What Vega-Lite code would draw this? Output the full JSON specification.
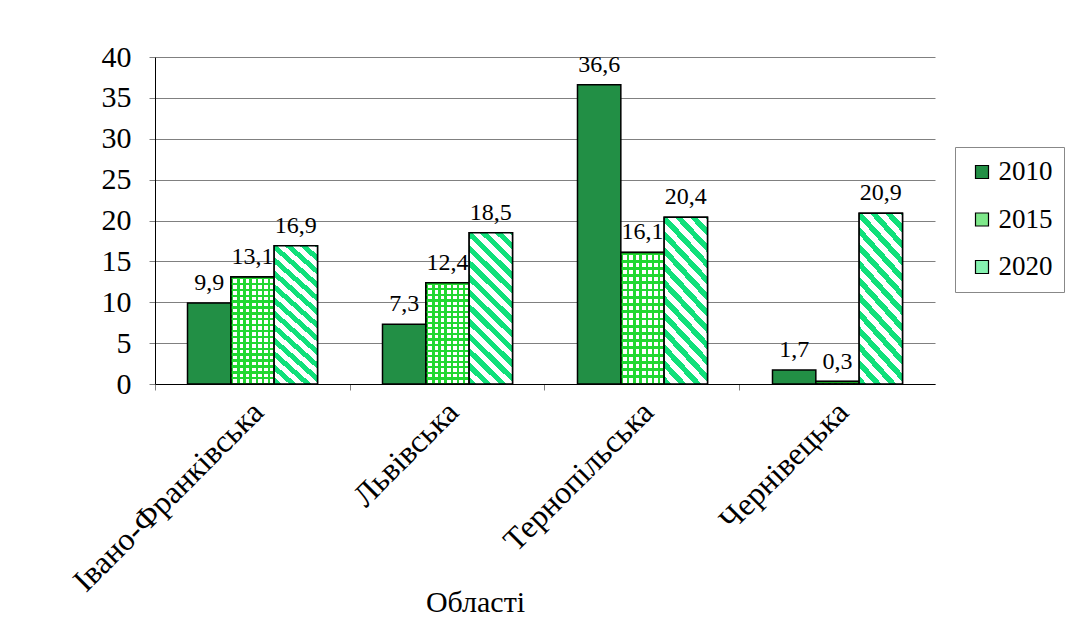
{
  "$schema": "https://vega.github.io/schema/vega-lite/v6.json",
  "width": 780,
  "height": 327,
  "autosize": {"type": "none"},
  "padding": {"left": 155, "top": 57, "right": 133, "bottom": 248},
  "background": "white",
  "config": {
    "font": "Liberation Serif",
    "view": {"stroke": null},
    "locale": {"number": {"decimal": ",", "thousands": " ", "grouping": [3], "currency": ["", ""]}}
  },
  "data": {
    "values": [
      {"region": "Івано-Франківська", "year": "2010", "value": 9.9},
      {"region": "Івано-Франківська", "year": "2015", "value": 13.1},
      {"region": "Івано-Франківська", "year": "2020", "value": 16.9},
      {"region": "Львівська", "year": "2010", "value": 7.3},
      {"region": "Львівська", "year": "2015", "value": 12.4},
      {"region": "Львівська", "year": "2020", "value": 18.5},
      {"region": "Тернопільська", "year": "2010", "value": 36.6},
      {"region": "Тернопільська", "year": "2015", "value": 16.1},
      {"region": "Тернопільська", "year": "2020", "value": 20.4},
      {"region": "Чернівецька", "year": "2010", "value": 1.7},
      {"region": "Чернівецька", "year": "2015", "value": 0.3},
      {"region": "Чернівецька", "year": "2020", "value": 20.9}
    ]
  },
  "encoding": {
    "x": {
      "field": "region",
      "type": "nominal",
      "sort": null,
      "scale": {"paddingInner": 0.3333, "paddingOuter": 0.1667},
      "axis": {
        "title": "Області",
        "titleFont": "Liberation Serif",
        "titleFontSize": 30,
        "titleFontWeight": "normal",
        "titleColor": "black",
        "titleX": 320,
        "titleY": 227,
        "titleBaseline": "alphabetic",
        "titleAnchor": "middle",
        "labelAngle": -45,
        "labelFontSize": 32,
        "labelColor": "black",
        "labelFont": "Liberation Serif",
        "labelLimit": 500,
        "labelPadding": 6,
        "labelOffset": -5,
        "bandPosition": -0.25,
        "tickSize": 6,
        "tickColor": "#808080",
        "domainColor": "black",
        "grid": false
      }
    },
    "xOffset": {"field": "year", "type": "nominal", "scale": {"domain": ["2010", "2015", "2020"], "paddingInner": 0, "paddingOuter": 0}},
    "y": {
      "field": "value",
      "type": "quantitative",
      "scale": {"domain": [0, 40], "nice": false},
      "axis": {
        "title": null,
        "values": [0, 5, 10, 15, 20, 25, 30, 35, 40],
        "labelFontSize": 30,
        "labelFont": "Liberation Serif",
        "labelColor": "black",
        "labelPadding": 18,
        "tickSize": 6,
        "tickColor": "#808080",
        "domainColor": "black",
        "gridColor": "#808080",
        "gridWidth": 1
      }
    }
  },
  "layer": [
    {
      "mark": {"type": "bar", "stroke": "black", "strokeWidth": 1.5},
      "encoding": {
        "color": {
          "field": "year",
          "type": "nominal",
          "scale": {"domain": ["2010", "2015", "2020"], "range": ["#228f45", "#7ee88a", "#86f2b0"]},
          "legend": {
            "title": null,
            "orient": "none",
            "legendX": 800,
            "legendY": 90,
            "direction": "vertical",
            "symbolType": "square",
            "symbolSize": 169,
            "symbolStrokeColor": "black",
            "symbolStrokeWidth": 1.2,
            "symbolOpacity": 1,
            "symbolOffset": 2,
            "labelFontSize": 27,
            "labelFont": "Liberation Serif",
            "labelColor": "black",
            "labelOffset": 3,
            "rowPadding": 19.5,
            "padding": 11.5,
            "strokeColor": "#888888",
            "fillColor": "white"
          }
        }
      }
    },
    {
      "transform": [{"filter": "datum.year === '2015'"}],
      "mark": {
        "type": "bar",
        "stroke": "black",
        "strokeWidth": 1.5,
        "fill": {
          "gradient": "linear", "x1": 0, "y1": 0, "x2": 1, "y2": 0,
          "stops": [
            {"offset": 0, "color": "#20d830"}, {"offset": 0.057, "color": "#20d830"}, {"offset": 0.057, "color": "white"}, {"offset": 0.143, "color": "white"},
            {"offset": 0.143, "color": "#20d830"}, {"offset": 0.2, "color": "#20d830"}, {"offset": 0.2, "color": "white"}, {"offset": 0.286, "color": "white"},
            {"offset": 0.286, "color": "#20d830"}, {"offset": 0.343, "color": "#20d830"}, {"offset": 0.343, "color": "white"}, {"offset": 0.429, "color": "white"},
            {"offset": 0.429, "color": "#20d830"}, {"offset": 0.486, "color": "#20d830"}, {"offset": 0.486, "color": "white"}, {"offset": 0.571, "color": "white"},
            {"offset": 0.571, "color": "#20d830"}, {"offset": 0.629, "color": "#20d830"}, {"offset": 0.629, "color": "white"}, {"offset": 0.714, "color": "white"},
            {"offset": 0.714, "color": "#20d830"}, {"offset": 0.771, "color": "#20d830"}, {"offset": 0.771, "color": "white"}, {"offset": 0.857, "color": "white"},
            {"offset": 0.857, "color": "#20d830"}, {"offset": 0.914, "color": "#20d830"}, {"offset": 0.914, "color": "white"}, {"offset": 1, "color": "white"}
          ]
        }
      },
      "encoding": {}
    },
    {
      "transform": [{"filter": "datum.year === '2015'"}],
      "mark": {
        "type": "bar",
        "stroke": "black",
        "strokeWidth": 1.5,
        "fill": {
          "gradient": "linear", "x1": 0, "y1": 0, "x2": 0, "y2": 1,
          "stops": [
            {"offset": 0, "color": "#20d830"}, {"offset": 0.022, "color": "#20d830"}, {"offset": 0.022, "color": "rgba(32,216,48,0)"}, {"offset": 0.055, "color": "rgba(32,216,48,0)"},
            {"offset": 0.055, "color": "#20d830"}, {"offset": 0.077, "color": "#20d830"}, {"offset": 0.077, "color": "rgba(32,216,48,0)"}, {"offset": 0.11, "color": "rgba(32,216,48,0)"},
            {"offset": 0.11, "color": "#20d830"}, {"offset": 0.132, "color": "#20d830"}, {"offset": 0.132, "color": "rgba(32,216,48,0)"}, {"offset": 0.165, "color": "rgba(32,216,48,0)"},
            {"offset": 0.165, "color": "#20d830"}, {"offset": 0.187, "color": "#20d830"}, {"offset": 0.187, "color": "rgba(32,216,48,0)"}, {"offset": 0.22, "color": "rgba(32,216,48,0)"},
            {"offset": 0.22, "color": "#20d830"}, {"offset": 0.242, "color": "#20d830"}, {"offset": 0.242, "color": "rgba(32,216,48,0)"}, {"offset": 0.275, "color": "rgba(32,216,48,0)"},
            {"offset": 0.275, "color": "#20d830"}, {"offset": 0.297, "color": "#20d830"}, {"offset": 0.297, "color": "rgba(32,216,48,0)"}, {"offset": 0.33, "color": "rgba(32,216,48,0)"},
            {"offset": 0.33, "color": "#20d830"}, {"offset": 0.352, "color": "#20d830"}, {"offset": 0.352, "color": "rgba(32,216,48,0)"}, {"offset": 0.385, "color": "rgba(32,216,48,0)"},
            {"offset": 0.385, "color": "#20d830"}, {"offset": 0.407, "color": "#20d830"}, {"offset": 0.407, "color": "rgba(32,216,48,0)"}, {"offset": 0.44, "color": "rgba(32,216,48,0)"},
            {"offset": 0.44, "color": "#20d830"}, {"offset": 0.462, "color": "#20d830"}, {"offset": 0.462, "color": "rgba(32,216,48,0)"}, {"offset": 0.495, "color": "rgba(32,216,48,0)"},
            {"offset": 0.495, "color": "#20d830"}, {"offset": 0.517, "color": "#20d830"}, {"offset": 0.517, "color": "rgba(32,216,48,0)"}, {"offset": 0.55, "color": "rgba(32,216,48,0)"},
            {"offset": 0.55, "color": "#20d830"}, {"offset": 0.572, "color": "#20d830"}, {"offset": 0.572, "color": "rgba(32,216,48,0)"}, {"offset": 0.605, "color": "rgba(32,216,48,0)"},
            {"offset": 0.605, "color": "#20d830"}, {"offset": 0.627, "color": "#20d830"}, {"offset": 0.627, "color": "rgba(32,216,48,0)"}, {"offset": 0.66, "color": "rgba(32,216,48,0)"},
            {"offset": 0.66, "color": "#20d830"}, {"offset": 0.682, "color": "#20d830"}, {"offset": 0.682, "color": "rgba(32,216,48,0)"}, {"offset": 0.715, "color": "rgba(32,216,48,0)"},
            {"offset": 0.715, "color": "#20d830"}, {"offset": 0.737, "color": "#20d830"}, {"offset": 0.737, "color": "rgba(32,216,48,0)"}, {"offset": 0.77, "color": "rgba(32,216,48,0)"},
            {"offset": 0.77, "color": "#20d830"}, {"offset": 0.792, "color": "#20d830"}, {"offset": 0.792, "color": "rgba(32,216,48,0)"}, {"offset": 0.825, "color": "rgba(32,216,48,0)"},
            {"offset": 0.825, "color": "#20d830"}, {"offset": 0.847, "color": "#20d830"}, {"offset": 0.847, "color": "rgba(32,216,48,0)"}, {"offset": 0.88, "color": "rgba(32,216,48,0)"},
            {"offset": 0.88, "color": "#20d830"}, {"offset": 0.902, "color": "#20d830"}, {"offset": 0.902, "color": "rgba(32,216,48,0)"}, {"offset": 0.935, "color": "rgba(32,216,48,0)"},
            {"offset": 0.935, "color": "#20d830"}, {"offset": 0.957, "color": "#20d830"}, {"offset": 0.957, "color": "rgba(32,216,48,0)"}, {"offset": 0.99, "color": "rgba(32,216,48,0)"},
            {"offset": 0.99, "color": "#20d830"}, {"offset": 1, "color": "#20d830"}
          ]
        }
      },
      "encoding": {}
    },
    {
      "transform": [{"filter": "datum.year === '2020'"}],
      "mark": {
        "type": "bar",
        "stroke": "black",
        "strokeWidth": 1.5,
        "fill": {
          "gradient": "linear", "x1": 0, "y1": 1, "x2": 0.56, "y2": -1,
          "stops": [
            {"offset": 0, "color": "#10e07a"}, {"offset": 0.0225, "color": "#10e07a"}, {"offset": 0.0225, "color": "white"}, {"offset": 0.045, "color": "white"},
            {"offset": 0.045, "color": "#10e07a"}, {"offset": 0.0675, "color": "#10e07a"}, {"offset": 0.0675, "color": "white"}, {"offset": 0.09, "color": "white"},
            {"offset": 0.09, "color": "#10e07a"}, {"offset": 0.1125, "color": "#10e07a"}, {"offset": 0.1125, "color": "white"}, {"offset": 0.135, "color": "white"},
            {"offset": 0.135, "color": "#10e07a"}, {"offset": 0.1575, "color": "#10e07a"}, {"offset": 0.1575, "color": "white"}, {"offset": 0.18, "color": "white"},
            {"offset": 0.18, "color": "#10e07a"}, {"offset": 0.2025, "color": "#10e07a"}, {"offset": 0.2025, "color": "white"}, {"offset": 0.225, "color": "white"},
            {"offset": 0.225, "color": "#10e07a"}, {"offset": 0.2475, "color": "#10e07a"}, {"offset": 0.2475, "color": "white"}, {"offset": 0.27, "color": "white"},
            {"offset": 0.27, "color": "#10e07a"}, {"offset": 0.2925, "color": "#10e07a"}, {"offset": 0.2925, "color": "white"}, {"offset": 0.315, "color": "white"},
            {"offset": 0.315, "color": "#10e07a"}, {"offset": 0.3375, "color": "#10e07a"}, {"offset": 0.3375, "color": "white"}, {"offset": 0.36, "color": "white"},
            {"offset": 0.36, "color": "#10e07a"}, {"offset": 0.3825, "color": "#10e07a"}, {"offset": 0.3825, "color": "white"}, {"offset": 0.405, "color": "white"},
            {"offset": 0.405, "color": "#10e07a"}, {"offset": 0.4275, "color": "#10e07a"}, {"offset": 0.4275, "color": "white"}, {"offset": 0.45, "color": "white"},
            {"offset": 0.45, "color": "#10e07a"}, {"offset": 0.4725, "color": "#10e07a"}, {"offset": 0.4725, "color": "white"}, {"offset": 0.495, "color": "white"},
            {"offset": 0.495, "color": "#10e07a"}, {"offset": 0.5175, "color": "#10e07a"}, {"offset": 0.5175, "color": "white"}, {"offset": 0.54, "color": "white"},
            {"offset": 0.54, "color": "#10e07a"}, {"offset": 0.5625, "color": "#10e07a"}, {"offset": 0.5625, "color": "white"}, {"offset": 0.585, "color": "white"},
            {"offset": 0.585, "color": "#10e07a"}, {"offset": 0.6075, "color": "#10e07a"}, {"offset": 0.6075, "color": "white"}, {"offset": 0.63, "color": "white"},
            {"offset": 0.63, "color": "#10e07a"}, {"offset": 0.6525, "color": "#10e07a"}, {"offset": 0.6525, "color": "white"}, {"offset": 1, "color": "white"}
          ]
        }
      },
      "encoding": {}
    },
    {
      "mark": {"type": "text", "dy": -13, "fontSize": 24, "font": "Liberation Serif", "color": "black", "baseline": "alphabetic"},
      "encoding": {
        "text": {"field": "value", "type": "quantitative", "format": ".1f"}
      }
    }
  ]
}
